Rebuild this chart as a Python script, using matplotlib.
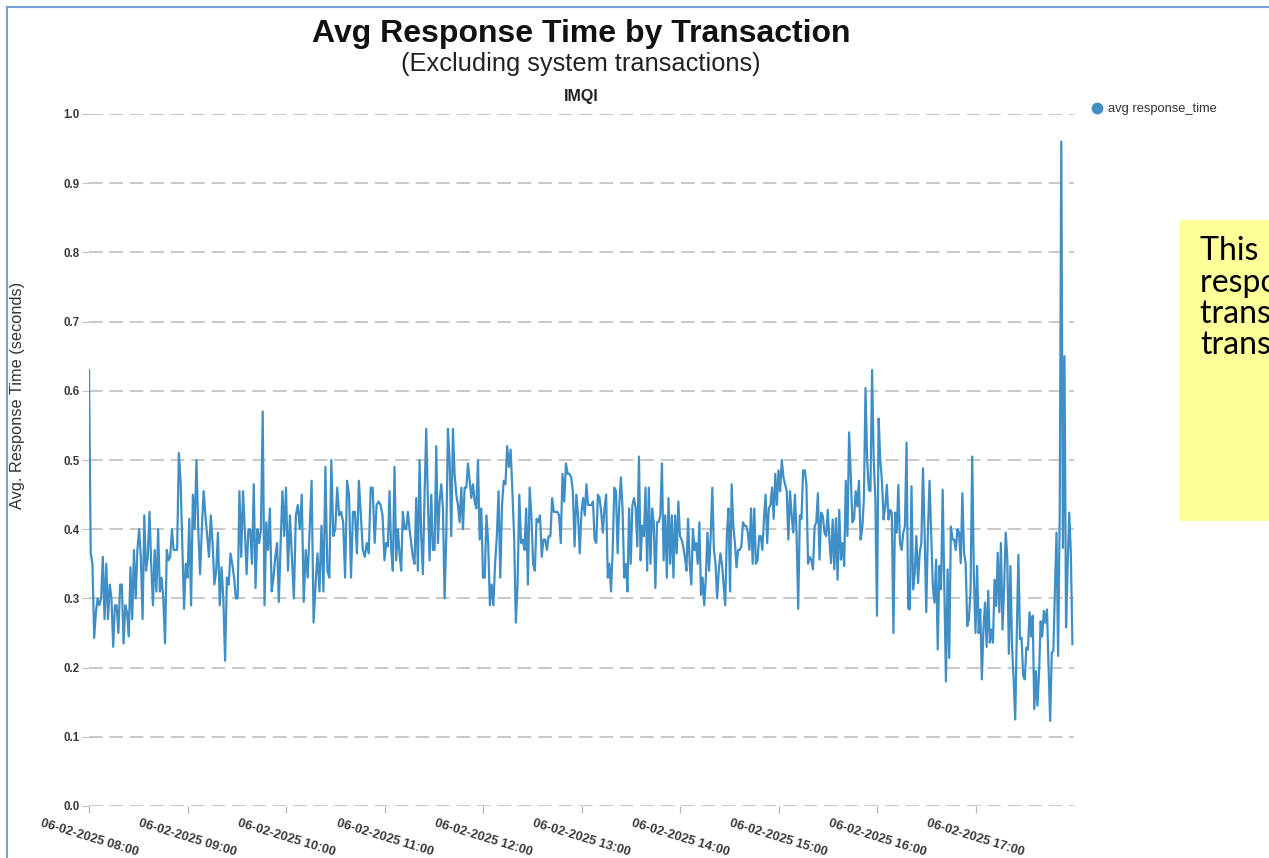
import matplotlib
matplotlib.use("Agg")
import matplotlib.pyplot as plt
import matplotlib.dates as mdates
from matplotlib.lines import Line2D
import pandas as pd
import numpy as np

plt.rcParams['font.family'] = ['Liberation Sans', 'DejaVu Sans']

title = "Avg Response Time by Transaction"
subtitle = "(Excluding system transactions)"
panel_title = "IMQI"
y_label = "Avg. Response Time (seconds)"
series_name = "avg response_time"
start_date = "2025-02-06"
y_ticks = [0.0, 0.1, 0.2, 0.3, 0.4, 0.5, 0.6, 0.7, 0.8, 0.9, 1.0]
note_lines = ["This  chart shows the average", "response time of IMQI",
              "transactions, excluding system", "transactions."]

# values read per hour (spread evenly inside each hour)
h08 = [0.63, 0.365, 0.35, 0.243, 0.28, 0.30, 0.29, 0.30, 0.36, 0.27, 0.35, 0.27, 0.32, 0.30, 0.23,
       0.29, 0.29, 0.25, 0.32, 0.32, 0.235, 0.29, 0.28, 0.245, 0.345, 0.27, 0.37, 0.30, 0.37, 0.40,
       0.36, 0.27, 0.42, 0.34, 0.36, 0.425, 0.35, 0.29, 0.37, 0.31, 0.40, 0.31, 0.33, 0.30, 0.235,
       0.37, 0.355, 0.36, 0.40, 0.37, 0.37, 0.37, 0.51, 0.47, 0.38, 0.285, 0.35]
h09 = [0.33, 0.415, 0.29, 0.45, 0.40, 0.50, 0.40, 0.335, 0.40, 0.455, 0.42, 0.39, 0.36, 0.42, 0.38,
       0.32, 0.34, 0.395, 0.29, 0.345, 0.30, 0.21, 0.33, 0.32, 0.365, 0.35, 0.33, 0.30, 0.30, 0.455,
       0.36, 0.455, 0.40, 0.335, 0.40, 0.40, 0.35, 0.465, 0.315, 0.40, 0.38, 0.40, 0.57, 0.29, 0.41,
       0.37, 0.43, 0.31, 0.33, 0.36, 0.38, 0.295, 0.38, 0.455, 0.39]
h10 = [0.46, 0.34, 0.42, 0.36, 0.30, 0.42, 0.435, 0.40, 0.45, 0.295, 0.37, 0.33, 0.40, 0.47, 0.265,
       0.32, 0.365, 0.31, 0.405, 0.31, 0.49, 0.34, 0.33, 0.50, 0.39, 0.40, 0.46, 0.42, 0.425, 0.41,
       0.33, 0.47, 0.45, 0.33, 0.425, 0.425, 0.365, 0.47, 0.42, 0.37, 0.36, 0.38, 0.365, 0.46, 0.46,
       0.38, 0.435, 0.44, 0.435, 0.42]
h11 = [0.355, 0.38, 0.375, 0.455, 0.37, 0.34, 0.49, 0.355, 0.40, 0.365, 0.34, 0.425, 0.40, 0.40,
       0.425, 0.40, 0.38, 0.36, 0.35, 0.445, 0.34, 0.50, 0.39, 0.335, 0.45, 0.545, 0.44, 0.355, 0.45,
       0.37, 0.37, 0.52, 0.38, 0.44, 0.465, 0.43, 0.30, 0.39, 0.545, 0.50, 0.39, 0.545, 0.48, 0.45,
       0.435, 0.41, 0.46, 0.40, 0.46, 0.46, 0.495, 0.47, 0.445, 0.465, 0.44, 0.43, 0.50, 0.385, 0.43]
h12 = [0.33, 0.33, 0.42, 0.38, 0.29, 0.32, 0.29, 0.35, 0.39, 0.455, 0.33, 0.435, 0.47, 0.465, 0.52,
       0.49, 0.515, 0.455, 0.39, 0.265, 0.32, 0.45, 0.38, 0.385, 0.37, 0.43, 0.32, 0.46, 0.42, 0.35,
       0.34, 0.415, 0.41, 0.42, 0.36, 0.385, 0.385, 0.37, 0.39, 0.39, 0.445, 0.425, 0.425, 0.425, 0.42,
       0.38, 0.48, 0.44, 0.495, 0.48, 0.48, 0.475, 0.455, 0.375, 0.45, 0.42, 0.365]
h13 = [0.425, 0.445, 0.42, 0.465, 0.435, 0.435, 0.435, 0.44, 0.385, 0.38, 0.45, 0.445, 0.425, 0.395,
       0.43, 0.45, 0.33, 0.35, 0.31, 0.37, 0.46, 0.455, 0.365, 0.435, 0.475, 0.43, 0.33, 0.35, 0.31,
       0.43, 0.35, 0.435, 0.445, 0.43, 0.375, 0.505, 0.355, 0.405, 0.39, 0.46, 0.34, 0.46, 0.35, 0.43,
       0.41, 0.315, 0.41, 0.41, 0.42, 0.495, 0.355, 0.42, 0.33, 0.445, 0.35, 0.42, 0.33, 0.42, 0.365,
       0.44]
h14 = [0.39, 0.385, 0.375, 0.36, 0.34, 0.415, 0.35, 0.32, 0.40, 0.37, 0.38, 0.35, 0.41, 0.305, 0.33,
       0.29, 0.33, 0.395, 0.34, 0.39, 0.46, 0.37, 0.35, 0.30, 0.34, 0.365, 0.35, 0.32, 0.29, 0.39,
       0.43, 0.31, 0.465, 0.405, 0.38, 0.345, 0.37, 0.37, 0.375, 0.41, 0.405, 0.405, 0.395, 0.37, 0.43,
       0.35, 0.43, 0.35, 0.355, 0.39, 0.39, 0.37, 0.415, 0.45, 0.38, 0.43, 0.435, 0.46, 0.415, 0.48,
       0.435]
h15 = [0.485, 0.455, 0.50, 0.475, 0.465, 0.455, 0.385, 0.455, 0.42, 0.395, 0.45, 0.395, 0.285, 0.42,
       0.415, 0.485, 0.485, 0.465, 0.35, 0.36, 0.356, 0.342, 0.404, 0.41, 0.452, 0.356, 0.424, 0.419,
       0.395, 0.39, 0.428, 0.385, 0.351, 0.414, 0.342, 0.416, 0.327, 0.428, 0.356, 0.38, 0.347, 0.47,
       0.39, 0.54, 0.48, 0.41, 0.414, 0.455, 0.433, 0.47, 0.385, 0.40, 0.443, 0.604, 0.50, 0.457,
       0.455, 0.63, 0.50, 0.443]
h16 = [0.275, 0.56, 0.50, 0.47, 0.414, 0.433, 0.464, 0.414, 0.428, 0.424, 0.25, 0.424, 0.395, 0.464,
       0.38, 0.37, 0.395, 0.404, 0.525, 0.286, 0.284, 0.462, 0.313, 0.337, 0.39, 0.322, 0.366, 0.38,
       0.488, 0.395, 0.28, 0.395, 0.47, 0.395, 0.318, 0.294, 0.356, 0.226, 0.347, 0.313, 0.457, 0.318,
       0.18, 0.342, 0.214, 0.404, 0.385, 0.385, 0.37, 0.40, 0.395, 0.351, 0.452, 0.366, 0.351, 0.26,
       0.27, 0.313, 0.505, 0.332]
h17 = [0.25, 0.347, 0.25, 0.284, 0.183, 0.255, 0.294, 0.23, 0.311, 0.236, 0.255, 0.236, 0.327, 0.289,
       0.366, 0.28, 0.38, 0.255, 0.313, 0.395, 0.36, 0.22, 0.347, 0.23, 0.183, 0.125, 0.25, 0.363,
       0.241, 0.243, 0.188, 0.183, 0.229, 0.226, 0.28, 0.245, 0.275, 0.14, 0.195, 0.145, 0.193, 0.267,
       0.245, 0.282, 0.265, 0.284, 0.20, 0.123, 0.222, 0.224, 0.313, 0.395, 0.217, 0.419, 0.96, 0.373,
       0.65, 0.258, 0.347, 0.424, 0.366, 0.234]
hours = [8, 9, 10, 11, 12, 13, 14, 15, 16, 17]
hourly_values = [h08, h09, h10, h11, h12, h13, h14, h15, h16, h17]

base = pd.Timestamp(start_date)
times, values = [], []
for h, vals in zip(hours, hourly_values):
    n = len(vals)
    for i, v in enumerate(vals):
        times.append(base + pd.Timedelta(hours=h) + pd.Timedelta(minutes=60.0 * i / n))
        values.append(v)

W, H = 1269, 858
fig = plt.figure(figsize=(W / 100, H / 100), dpi=100)
ax = fig.add_axes([89 / W, 1 - 806 / H, (1074 - 89) / W, (806 - 114) / H])

line_color = '#3f8fc6'
ax.plot(times, values, color=line_color, lw=1.6, zorder=3)

ax.set_ylim(0, 1.0)
ax.set_xlim(base + pd.Timedelta(hours=8), base + pd.Timedelta(hours=18))
ax.set_yticks(y_ticks)
ax.yaxis.set_major_formatter(matplotlib.ticker.FormatStrFormatter('%.1f'))
for yv in y_ticks:
    ax.axhline(yv, color='#c8c8c8', lw=1.4, ls=(0, (7, 3.5)), zorder=1)
for s in ax.spines.values():
    s.set_visible(False)

ax.xaxis.set_major_locator(mdates.HourLocator(byhour=range(8, 18)))
ax.xaxis.set_major_formatter(mdates.DateFormatter('%d-%m-%Y %H:%M'))
ax.tick_params(axis='x', length=5, color='#b0b0b0', pad=3, labelsize=9.2, labelcolor='#3a3a3a')
ax.tick_params(axis='y', length=5, color='#c0c0c0', pad=2, labelsize=8.3, labelcolor='#3a3a3a')
for lab in ax.get_xticklabels():
    lab.set_rotation(-17)
    lab.set_ha('center')
    lab.set_fontweight('bold')
for lab in ax.get_yticklabels():
    lab.set_fontweight('bold')

fig.text(18 / W, 1 - 395 / H, y_label, rotation=90, ha='center', va='center',
         fontsize=11.8, color='#333333')
fig.text(581 / W, 1 - 34 / H, title, ha='center', va='center', fontsize=23,
         fontweight='bold', color='#111111')
fig.text(581 / W, 1 - 64 / H, subtitle, ha='center', va='center', fontsize=18.3, color='#222222')
fig.text(581 / W, 1 - 97 / H, panel_title, ha='center', va='center', fontsize=11.5,
         fontweight='bold', color='#222222')

handle = Line2D([], [], marker='o', color=line_color, ls='none', markersize=7.5)
fig.legend([handle], [series_name], loc='center left', bbox_to_anchor=(1084 / W, 1 - 109 / H),
           frameon=False, handletextpad=0.35, borderpad=0, handlelength=1.0, fontsize=9.3,
           labelcolor='#333333')

# frame of the screenshot
fig.add_artist(Line2D([7 / W, 7 / W], [0, 1 - 7 / H], color='#7a9fd8', lw=1.5))
fig.add_artist(Line2D([7 / W, 1], [1 - 7 / H, 1 - 7 / H], color='#7a9fd8', lw=1.5))

# yellow note box (cut off at the right edge, as in the reference)
fig.add_artist(matplotlib.patches.Rectangle((1180 / W, 1 - 521 / H), 200 / W, 301 / H,
                                            facecolor='#ffff99', edgecolor='none',
                                            transform=fig.transFigure))
for i, t in enumerate(note_lines):
    fig.text(1200 / W, 1 - (260 + 31.5 * i) / H, t, ha='left', va='baseline', fontsize=23,
             family=['Lato', 'DejaVu Sans'], color='#000000')

fig.savefig('out.png', dpi=100)
